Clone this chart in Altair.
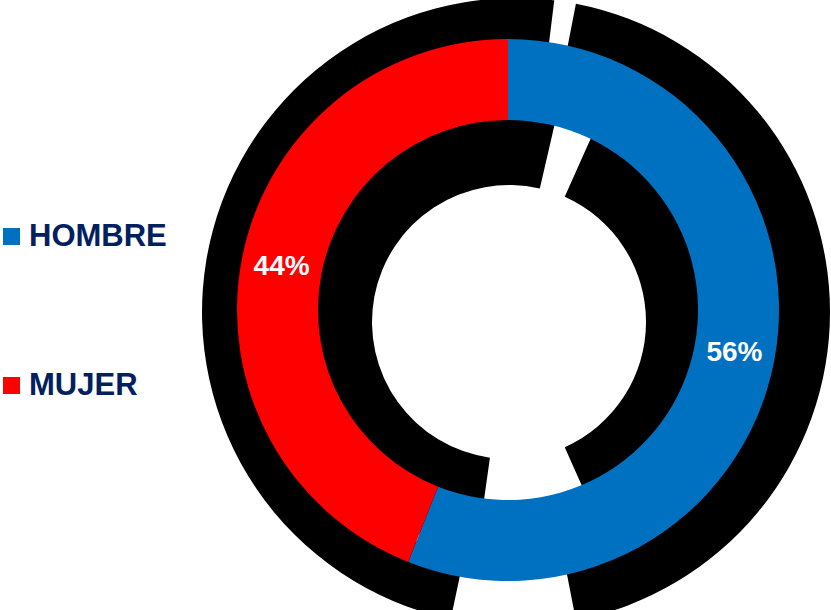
import math
import altair as alt
import pandas as pd

# ---- data ----
categories = ["HOMBRE", "MUJER"]
values = [56, 44]
labels = ["56%", "44%"]
colors = ["#0070C0", "#FF0000"]

df = pd.DataFrame({"cat": categories, "value": values, "label": labels,
                   "idx": list(range(len(categories)))})

W, H = 831, 610
CX, CY = 508, 310
R_OUT, R_IN = 271, 190


def black_arc(t0, t1, r_in, r_out, cx, cy):
    return alt.Chart(pd.DataFrame({"k": [0]})).mark_arc(
        theta=math.radians(t0), theta2=math.radians(t1),
        radius=r_out, radius2=r_in, color="black"
    ).encode(x=alt.value(cx), y=alt.value(cy))


# dark backdrop behind the ring (as in the reference picture)
shadows = [
    black_arc(11, 169, 250, 314, 516, 312),
    black_arc(192, 367, 250, 314, 516, 312),
    black_arc(24, 156, 137, 230, 509, 322),
    black_arc(188, 373, 137, 230, 509, 322),
]

donut = alt.Chart(df).mark_arc(radius=R_OUT, radius2=R_IN).encode(
    theta=alt.Theta("value:Q", stack=True),
    color=alt.Color(
        "cat:N",
        scale=alt.Scale(domain=categories, range=colors),
        legend=alt.Legend(
            title=None, orient="none", legendX=-4, legendY=221,
            symbolType="square", symbolSize=289, symbolStrokeWidth=0,
            symbolOpacity=1, labelFont="Liberation Sans", labelFontSize=31,
            labelFontWeight="bold", labelColor="#002060", labelOffset=2,
            rowPadding=117, padding=0, labelLimit=400,
        ),
    ),
    order=alt.Order("idx:Q"),
    x=alt.value(CX),
    y=alt.value(CY),
)

text = alt.Chart(df).mark_text(
    radius=(R_OUT + R_IN) / 2, font="Liberation Sans", fontSize=28,
    fontWeight="bold", color="white"
).encode(
    theta=alt.Theta("value:Q", stack=True),
    text="label:N",
    detail="cat:N",
    order=alt.Order("idx:Q"),
    x=alt.value(CX),
    y=alt.value(CY),
)

chart = alt.layer(*shadows, donut, text).properties(
    width=W, height=H, autosize=alt.AutoSizeParams(type="none"), padding=0
).configure_view(strokeWidth=0)

chart.save("out.html", embed_options={"renderer": "svg", "actions": False})
